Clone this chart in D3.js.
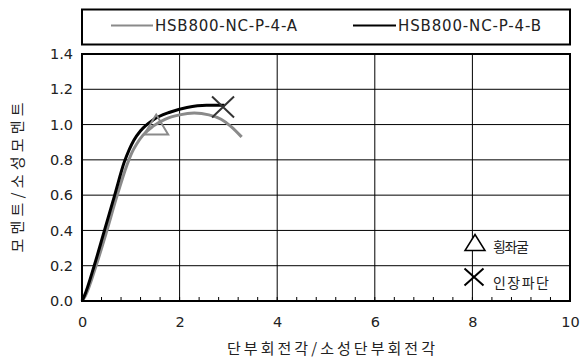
<!DOCTYPE html>
<html>
<head>
<meta charset="utf-8">
<script src="https://cdn.jsdelivr.net/npm/d3@7"></script>
<style>
  html, body { margin: 0; padding: 0; background: #fff; }
  svg { display: block; }
  text { font-family: "DejaVu Sans", "Noto Sans CJK KR", sans-serif; fill: #222; }
  .kr { font-family: "Noto Sans CJK KR", sans-serif; }
</style>
</head>
<body>
<svg id="chart" width="586" height="360"></svg>
<script>
// Normalised end rotation (x) vs normalised moment (y) for two specimens
const seriesNames = ["HSB800-NC-P-4-A", "HSB800-NC-P-4-B"];
const rotationA = [0, 0.07, 0.3, 0.5, 0.7, 0.92, 1.02, 1.12, 1.25, 1.45, 1.7, 2.0, 2.3, 2.6, 2.85, 3.05, 3.27];
const momentA   = [0, 0.03, 0.21, 0.39, 0.58, 0.77, 0.84, 0.89, 0.94, 0.99, 1.03, 1.055, 1.065, 1.055, 1.03, 0.99, 0.93];
const rotationB = [0, 0.05, 0.25, 0.45, 0.67, 0.87, 0.97, 1.06, 1.2, 1.45, 1.8, 2.15, 2.55, 2.92];
const momentB   = [0, 0.03, 0.2, 0.39, 0.6, 0.79, 0.86, 0.91, 0.965, 1.025, 1.07, 1.097, 1.11, 1.11];

// Failure events: lateral-torsional buckling (A), tensile fracture (B)
const bucklingPoint = [1.52, 1.0];
const fracturePoint = [2.89, 1.10];
const eventLabels = ["횡좌굴", "인장파단"];

const xTicks = [0, 2, 4, 6, 8, 10];
const yTicks = [0, 0.2, 0.4, 0.6, 0.8, 1.0, 1.2, 1.4];
const xTitle = "단부회전각/소성단부회전각";
const yTitle = "모멘트/소성모멘트";

const svg = d3.select("#chart");
const plotLeft = 82, plotRight = 570, plotTop = 54, plotBottom = 301;

const x = d3.scaleLinear().domain([0, 10]).range([plotLeft, plotRight]);
const y = d3.scaleLinear().domain([0, 1.4]).range([plotBottom, plotTop]);

// Grid
const grid = svg.append("g");
grid.selectAll("line.h").data(yTicks.slice(1, -1)).join("line")
  .attr("x1", plotLeft).attr("x2", plotRight)
  .attr("y1", d => y(d)).attr("y2", d => y(d))
  .attr("stroke", "#000").attr("stroke-width", 1);
grid.selectAll("line.v").data(xTicks.slice(1, -1)).join("line")
  .attr("y1", plotTop).attr("y2", plotBottom)
  .attr("x1", d => x(d)).attr("x2", d => x(d))
  .attr("stroke", "#000").attr("stroke-width", 1);

// Minor ticks along the bottom (every 0.4)
const minor = d3.range(0.4, 10, 0.4);
grid.selectAll("line.m").data(minor).join("line")
  .attr("x1", d => x(d)).attr("x2", d => x(d))
  .attr("y1", plotBottom).attr("y2", plotBottom - 4)
  .attr("stroke", "#000").attr("stroke-width", 1);

// Tick labels via axes
const xAxis = svg.append("g").attr("transform", `translate(0,${plotBottom})`)
  .call(d3.axisBottom(x).tickValues(xTicks).tickFormat(d3.format("d")).tickSize(0).tickPadding(16));
const yAxis = svg.append("g").attr("transform", `translate(${plotLeft},0)`)
  .call(d3.axisLeft(y).tickValues(yTicks).tickFormat(d3.format(".1f")).tickSize(0).tickPadding(9));
[xAxis, yAxis].forEach(a => {
  a.select(".domain").remove();
  a.selectAll("text").attr("font-size", 14.5).attr("fill", "#222")
    .attr("font-family", "'DejaVu Sans', sans-serif");
});

// Curves
const line = d3.line().x(d => x(d[0])).y(d => y(d[1])).curve(d3.curveMonotoneX);
const dataA = rotationA.map((v, i) => [v, momentA[i]]);
const dataB = rotationB.map((v, i) => [v, momentB[i]]);
svg.append("path").datum(dataA).attr("d", line)
  .attr("fill", "none").attr("stroke", "#8a8a8a").attr("stroke-width", 3);
svg.append("path").datum(dataB).attr("d", line)
  .attr("fill", "none").attr("stroke", "#000").attr("stroke-width", 3);

// Markers
function triangle(cx, cy, w, h) {
  return `M${cx},${cy - h / 2}L${cx + w / 2},${cy + h / 2}L${cx - w / 2},${cy + h / 2}Z`;
}
function cross(cx, cy, w, h) {
  return `M${cx - w / 2},${cy - h / 2}L${cx + w / 2},${cy + h / 2}M${cx + w / 2},${cy - h / 2}L${cx - w / 2},${cy + h / 2}`;
}
svg.append("path")
  .attr("d", triangle(x(bucklingPoint[0]), y(bucklingPoint[1]), 24, 20))
  .attr("fill", "none").attr("stroke", "#8a8a8a").attr("stroke-width", 2);
svg.append("path")
  .attr("d", cross(x(fracturePoint[0]), y(fracturePoint[1]), 22, 21))
  .attr("fill", "none").attr("stroke", "#333").attr("stroke-width", 2);

// Plot frame
svg.append("rect").attr("x", plotLeft).attr("y", plotTop)
  .attr("width", plotRight - plotLeft).attr("height", plotBottom - plotTop)
  .attr("fill", "none").attr("stroke", "#000").attr("stroke-width", 2);

// Event legend inside plot
svg.append("path").attr("d", triangle(475, 242.5, 20, 16))
  .attr("fill", "#fff").attr("stroke", "#000").attr("stroke-width", 1.5);
svg.append("path").attr("d", cross(474, 277, 19, 17))
  .attr("fill", "none").attr("stroke", "#000").attr("stroke-width", 2);
svg.append("text").attr("class", "kr").attr("x", 493).attr("y", 252)
  .attr("font-size", 14).attr("textLength", 36).attr("lengthAdjust", "spacing")
  .text(eventLabels[0]);
svg.append("text").attr("class", "kr").attr("x", 493).attr("y", 288)
  .attr("font-size", 14).attr("textLength", 56).attr("lengthAdjust", "spacing")
  .text(eventLabels[1]);

// Series legend box
svg.append("rect").attr("x", plotLeft).attr("y", 9.5)
  .attr("width", plotRight - plotLeft).attr("height", 35)
  .attr("fill", "#fff").attr("stroke", "#000").attr("stroke-width", 2);
const legendItems = [
  { name: seriesNames[0], color: "#8a8a8a", x1: 111, x2: 153, tx: 155, tw: 142 },
  { name: seriesNames[1], color: "#000", x1: 353, x2: 396, tx: 398, tw: 143 }
];
legendItems.forEach(it => {
  svg.append("line").attr("x1", it.x1).attr("x2", it.x2).attr("y1", 25.5).attr("y2", 25.5)
    .attr("stroke", it.color).attr("stroke-width", 2);
  svg.append("text").attr("x", it.tx).attr("y", 31).attr("font-size", 15)
    .attr("textLength", it.tw).attr("lengthAdjust", "spacing").text(it.name);
});

// Axis titles
svg.append("text").attr("class", "kr").attr("x", 331).attr("y", 354)
  .attr("text-anchor", "middle").attr("font-size", 15)
  .attr("textLength", 208).attr("lengthAdjust", "spacing").text(xTitle);
svg.append("text").attr("class", "kr")
  .attr("transform", `translate(23,${(plotTop + plotBottom) / 2}) rotate(-90)`)
  .attr("text-anchor", "middle").attr("font-size", 15)
  .attr("textLength", 150).attr("lengthAdjust", "spacing").text(yTitle);
</script>
</body>
</html>
